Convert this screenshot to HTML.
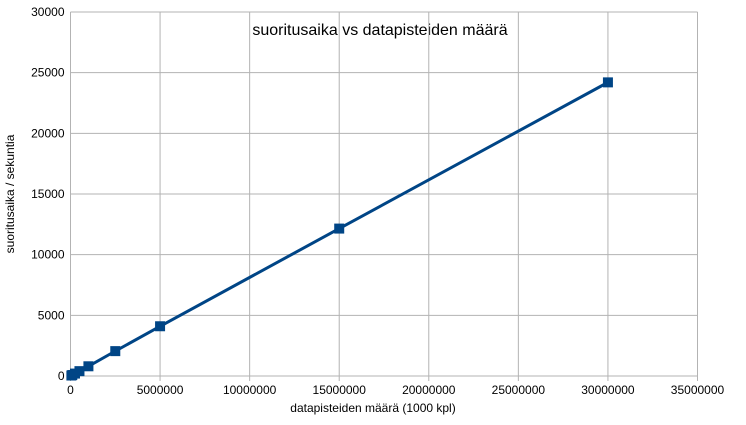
<!DOCTYPE html>
<html><head><meta charset="utf-8"><style>
body{margin:0;background:#fff;font-family:"Liberation Sans",sans-serif;}
</style></head><body>
<svg id="c" width="746" height="420" xmlns="http://www.w3.org/2000/svg">
<rect width="746" height="420" fill="#fff"/>
<text x="380" y="35" text-anchor="middle" font-size="16" fill="#000">suoritusaika vs datapisteiden määrä</text>
<g id="grid"></g><g id="ticks"></g><g id="series"></g>
<text x="373" y="412" text-anchor="middle" font-size="12">datapisteiden määrä (1000 kpl)</text>
<text transform="translate(14,194) rotate(-90)" text-anchor="middle" font-size="12">suoritusaika / sekuntia</text>
</svg>
<script>
const xValues=[50000,100000,250000,500000,1000000,2500000,5000000,15000000,30000000];
const yValues=[40,80,200,400,800,2050,4100,12150,24200];
const xTicks=[0,5000000,10000000,15000000,20000000,25000000,30000000,35000000];
const yTicks=[0,5000,10000,15000,20000,25000,30000];
const NS="http://www.w3.org/2000/svg";
const X0=70.5,X1=697.5,Y0=376,Y1=12;
const sx=v=>X0+v/35000000*(X1-X0);
const sy=v=>Y0-v/30000*(Y0-Y1);
function mk(t,a,p){const e=document.createElementNS(NS,t);for(const k in a)e.setAttribute(k,a[k]);p.appendChild(e);return e;}
const grid=document.getElementById('grid'),ticks=document.getElementById('ticks'),ser=document.getElementById('series');
yTicks.forEach(v=>{
 const l=mk('line',{x1:X0,x2:X1,y1:sy(v),y2:sy(v),stroke:'#b3b3b3','stroke-width':1},grid);
 
 
 const t=mk('text',{x:X0-6,y:sy(v)+4,'text-anchor':'end','font-size':12},ticks);t.textContent=v;
 
 
});
xTicks.forEach(v=>{
 const l=mk('line',{x1:sx(v),x2:sx(v),y1:Y1,y2:Y0+5,stroke:'#b3b3b3','stroke-width':1},grid);
 
 
 const t=mk('text',{x:sx(v),y:Y0+18,'text-anchor':'middle','font-size':12},ticks);t.textContent=v;
 
 
});
const pts=xValues.map((x,i)=>sx(x)+','+sy(yValues[i])).join(' ');
const pl=mk('polyline',{points:pts,fill:'none',stroke:'#004586','stroke-width':3},ser);


xValues.forEach((x,i)=>{
 const r=mk('rect',{x:sx(x)-5,y:sy(yValues[i])-5,width:10,height:10,fill:'#004586'},ser);
 
 
});
</script>
</body></html>
